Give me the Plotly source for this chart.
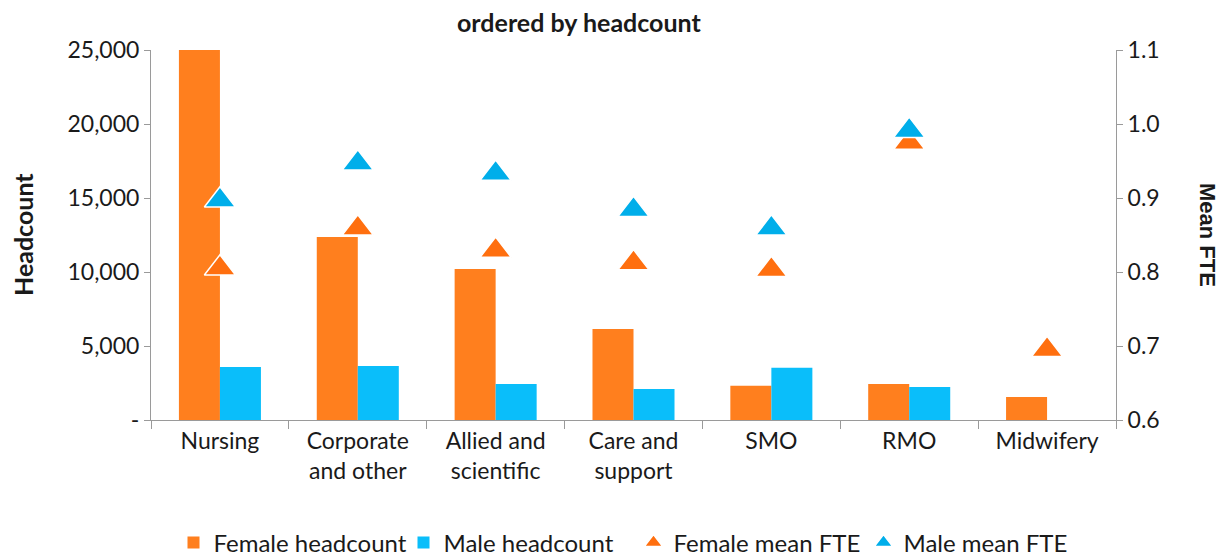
import plotly.graph_objects as go

categories = ["Nursing", "Corporate<br>and other", "Allied and<br>scientific", "Care and<br>support", "SMO", "RMO", "Midwifery"]
female_headcount = [27000, 12370, 10200, 6150, 2320, 2430, 1550]
male_headcount = [3580, 3650, 2430, 2100, 3530, 2230, None]
female_fte = [0.805, 0.859, 0.829, 0.812, 0.803, 0.975, 0.695]
male_fte = [0.897, 0.947, 0.933, 0.884, 0.859, 0.991, None]

left_tickvals = [0, 5000, 10000, 15000, 20000, 25000]
left_ticktext = ["-", "5,000", "10,000", "15,000", "20,000", "25,000"]
right_tickvals = [0.6, 0.7, 0.8, 0.9, 1.0, 1.1]
right_ticktext = ["0.6", "0.7", "0.8", "0.9", "1.0", "1.1"]

FONT = "Lato"
ORANGE_BAR = "#FF7F1E"
BLUE_BAR = "#0ABEFA"
ORANGE_MK = "#FF6F0F"
BLUE_MK = "#00AEEA"

fig = go.Figure()
fig.add_trace(go.Bar(x=categories, y=female_headcount, name="Female headcount",
                     marker=dict(color=ORANGE_BAR, line=dict(width=0))))
fig.add_trace(go.Bar(x=categories, y=male_headcount, name="Male headcount",
                     marker=dict(color=BLUE_BAR, line=dict(width=0))))
fig.add_trace(go.Scatter(x=categories, y=female_fte, name="Female mean FTE", yaxis="y2",
                         mode="markers",
                         marker=dict(symbol="triangle-up", size=27, color=ORANGE_MK,
                                     line=dict(color="white", width=1.5))))
fig.add_trace(go.Scatter(x=categories, y=male_fte, name="Male mean FTE", yaxis="y2",
                         mode="markers",
                         marker=dict(symbol="triangle-up", size=27, color=BLUE_MK,
                                     line=dict(color="white", width=1.5))))

axis_line = "#9A9A9A"
fig.update_layout(
    width=1220, height=548,
    margin=dict(l=143, r=112, t=42, b=136, autoexpand=False),
    paper_bgcolor="white", plot_bgcolor="white",
    font=dict(family=FONT, size=23, color="#1a1a1a"),
    barmode="group", bargap=0.405, bargroupgap=0,
    showlegend=True,
    legend=dict(orientation="h", x=0.5, xanchor="center", xref="paper",
                y=0.024, yref="container", yanchor="middle",
                font=dict(size=24), itemwidth=30, tracegroupgap=0,
                entrywidth=185, entrywidthmode="pixels"),
    xaxis=dict(type="category", showline=True, linecolor=axis_line, linewidth=1,
               ticks="outside", tickson="boundaries", ticklen=8, tickcolor=axis_line,
               showgrid=False, tickfont=dict(size=23), automargin=False),
    yaxis=dict(range=[0, 25000], tickvals=left_tickvals, ticktext=left_ticktext,
               showline=True, linecolor=axis_line, linewidth=1, ticks="outside",
               ticklen=6, tickcolor=axis_line, showgrid=False, zeroline=False,
               tickfont=dict(size=23), automargin=False),
    yaxis2=dict(range=[0.6, 1.1], tickvals=right_tickvals, ticktext=right_ticktext,
                overlaying="y", side="right", showline=True, linecolor=axis_line,
                linewidth=1, ticks="outside", ticklen=6, tickcolor=axis_line,
                showgrid=False, zeroline=False, tickfont=dict(size=23), automargin=False),
    annotations=[
        dict(text="<b>ordered by headcount</b>", xref="paper", yref="paper",
             x=0.4435, y=1, yshift=28, showarrow=False, font=dict(size=25),
             xanchor="center", yanchor="middle"),
        dict(text="<b>Headcount</b>", xref="paper", yref="paper", x=0, xshift=-128,
             y=0.5, showarrow=False, textangle=-90, font=dict(size=25),
             xanchor="center", yanchor="middle"),
        dict(text="<b>Mean FTE</b>", xref="paper", yref="paper", x=1, xshift=92,
             y=0.5, showarrow=False, textangle=90,
             font=dict(size=22, family="Liberation Sans"),
             xanchor="center", yanchor="middle"),
    ],
)

fig.write_html("out.html")
